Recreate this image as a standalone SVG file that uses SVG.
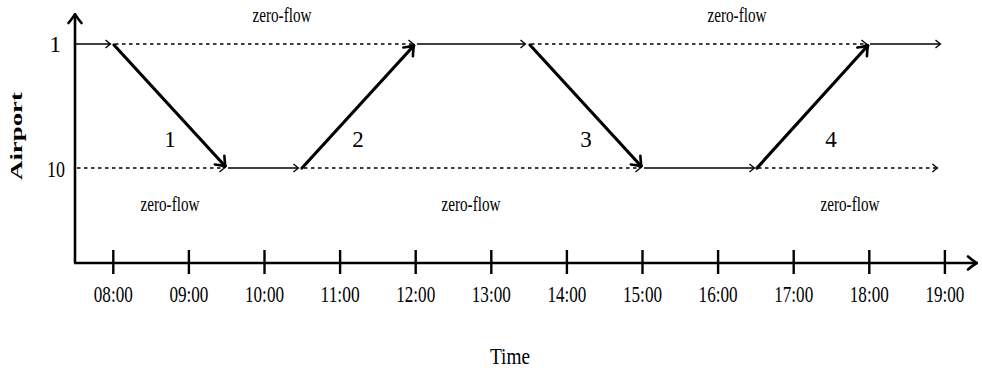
<svg xmlns="http://www.w3.org/2000/svg" width="982" height="371" viewBox="0 0 982 371">
<style>
text{font-family:"Liberation Serif","DejaVu Serif",serif;fill:#000}
.tk{font-size:23px}
.zf{font-size:20px}
.thin{stroke:#000;stroke-width:1.5;fill:none}
.dash{stroke:#000;stroke-width:1.6;fill:none;stroke-dasharray:3.5 3.5}
.thick{stroke:#000;stroke-width:3.2;fill:none;stroke-linecap:round}
.axis{stroke:#000;stroke-width:2.6;fill:none}
</style>
<defs>
<marker id="to" viewBox="-6 -5 8 10" markerWidth="8" markerHeight="10" refX="0" refY="0" orient="auto" markerUnits="userSpaceOnUse">
<path d="M-4.5,-4 Q-1,-1 0.5,0 Q-1,1 -4.5,4" fill="none" stroke="#000" stroke-width="1.4"/>
</marker>
<marker id="toT" viewBox="-10 -8 12 16" markerWidth="12" markerHeight="16" refX="0" refY="0" orient="auto" markerUnits="userSpaceOnUse">
<path d="M-8,-6.5 Q-2,-1.5 1,0 Q-2,1.5 -8,6.5" fill="none" stroke="#000" stroke-width="2.6" stroke-linecap="round"/>
</marker>
</defs>
<g id="axes">
<line class="axis" x1="75" y1="263" x2="75" y2="15" marker-end="url(#toT)"/>
<line class="axis" x1="74" y1="263" x2="976" y2="263" marker-end="url(#toT)"/>
<g stroke="#000" stroke-width="2.4">
<line x1="113.3" y1="250" x2="113.3" y2="274"/>
<line x1="188.9" y1="250" x2="188.9" y2="274"/>
<line x1="264.5" y1="250" x2="264.5" y2="274"/>
<line x1="340.1" y1="250" x2="340.1" y2="274"/>
<line x1="415.7" y1="250" x2="415.7" y2="274"/>
<line x1="491.3" y1="250" x2="491.3" y2="274"/>
<line x1="566.9" y1="250" x2="566.9" y2="274"/>
<line x1="642.5" y1="250" x2="642.5" y2="274"/>
<line x1="718.1" y1="250" x2="718.1" y2="274"/>
<line x1="793.7" y1="250" x2="793.7" y2="274"/>
<line x1="869.3" y1="250" x2="869.3" y2="274"/>
<line x1="944.9" y1="250" x2="944.9" y2="274"/>
</g>
</g>
<g id="ticklabels" class="tk" text-anchor="middle">
<text x="113.3" y="302" textLength="39" lengthAdjust="spacingAndGlyphs">08:00</text>
<text x="188.9" y="302" textLength="39" lengthAdjust="spacingAndGlyphs">09:00</text>
<text x="264.5" y="302" textLength="39" lengthAdjust="spacingAndGlyphs">10:00</text>
<text x="340.1" y="302" textLength="39" lengthAdjust="spacingAndGlyphs">11:00</text>
<text x="415.7" y="302" textLength="39" lengthAdjust="spacingAndGlyphs">12:00</text>
<text x="491.3" y="302" textLength="39" lengthAdjust="spacingAndGlyphs">13:00</text>
<text x="566.9" y="302" textLength="39" lengthAdjust="spacingAndGlyphs">14:00</text>
<text x="642.5" y="302" textLength="39" lengthAdjust="spacingAndGlyphs">15:00</text>
<text x="718.1" y="302" textLength="39" lengthAdjust="spacingAndGlyphs">16:00</text>
<text x="793.7" y="302" textLength="39" lengthAdjust="spacingAndGlyphs">17:00</text>
<text x="869.3" y="302" textLength="39" lengthAdjust="spacingAndGlyphs">18:00</text>
<text x="944.9" y="302" textLength="39" lengthAdjust="spacingAndGlyphs">19:00</text>
</g>
<g id="airport-labels" class="tk" text-anchor="end">
<text x="61" y="52">1</text>
<text x="65" y="177" textLength="18" lengthAdjust="spacingAndGlyphs">10</text>
</g>
<g id="axis-titles">
<text x="510" y="364" class="tk" text-anchor="middle" textLength="40" lengthAdjust="spacingAndGlyphs">Time</text>
<text transform="translate(22,136) rotate(-90)" text-anchor="middle" font-weight="bold" font-size="17" textLength="88" lengthAdjust="spacingAndGlyphs">Airport</text>
</g>
<g id="connectors">
<line class="thin" x1="75" y1="44" x2="110" y2="44" marker-end="url(#to)"/>
<line class="dash" x1="115" y1="44" x2="413" y2="44" marker-end="url(#to)"/>
<line class="thin" x1="417" y1="44" x2="525" y2="44" marker-end="url(#to)"/>
<line class="dash" x1="531" y1="44" x2="866" y2="44" marker-end="url(#to)"/>
<line class="thin" x1="870" y1="44" x2="940" y2="44" marker-end="url(#to)"/>
<line class="dash" x1="77" y1="168" x2="224" y2="168" marker-end="url(#to)"/>
<line class="thin" x1="228" y1="168" x2="298" y2="168" marker-end="url(#to)"/>
<line class="dash" x1="304" y1="168" x2="640" y2="168" marker-end="url(#to)"/>
<line class="thin" x1="644" y1="168" x2="754" y2="168" marker-end="url(#to)"/>
<line class="dash" x1="758" y1="168" x2="937" y2="168" marker-end="url(#to)"/>
<line class="thick" x1="114" y1="45" x2="225" y2="166" marker-end="url(#toT)"/>
<line class="thick" x1="302" y1="168" x2="413.5" y2="46" marker-end="url(#toT)"/>
<line class="thick" x1="530" y1="45" x2="641" y2="166" marker-end="url(#toT)"/>
<line class="thick" x1="757" y1="168" x2="867.5" y2="46" marker-end="url(#toT)"/>
</g>
<g id="flow-labels" class="tk" text-anchor="middle">
<text x="170" y="147">1</text>
<text x="358" y="147">2</text>
<text x="586" y="147">3</text>
<text x="831" y="147">4</text>
</g>
<g id="zero-flow-labels" class="zf" text-anchor="middle">
<text x="282" y="22" textLength="59" lengthAdjust="spacingAndGlyphs">zero-flow</text>
<text x="737" y="22" textLength="59" lengthAdjust="spacingAndGlyphs">zero-flow</text>
<text x="170" y="211" textLength="59" lengthAdjust="spacingAndGlyphs">zero-flow</text>
<text x="471" y="211" textLength="59" lengthAdjust="spacingAndGlyphs">zero-flow</text>
<text x="850" y="211" textLength="59" lengthAdjust="spacingAndGlyphs">zero-flow</text>
</g>
</svg>
